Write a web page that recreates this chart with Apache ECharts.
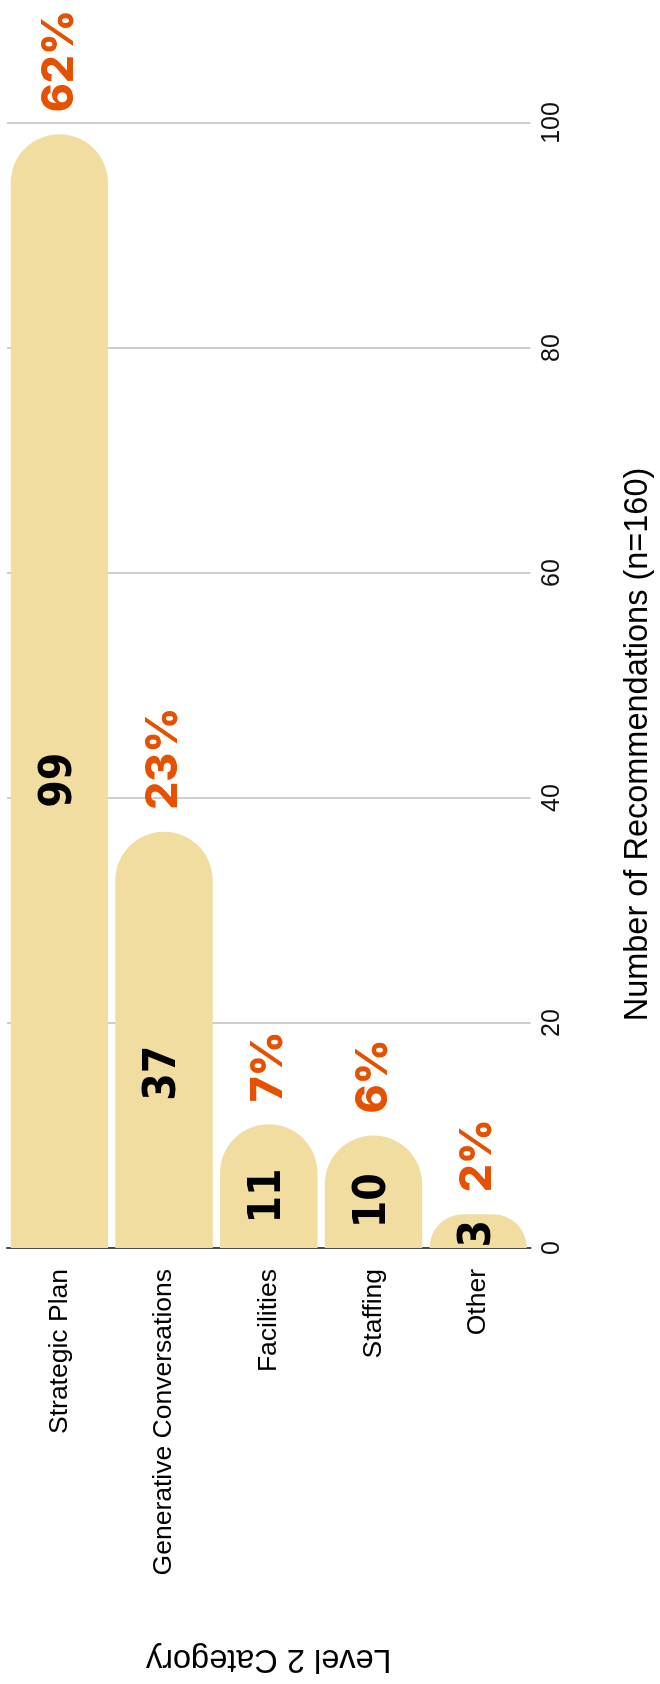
<!DOCTYPE html>
<html>
<head>
<meta charset="utf-8">
<script src="https://cdn.jsdelivr.net/npm/echarts@6/dist/echarts.min.js"></script>
<style>
  html, body { margin: 0; padding: 0; width: 660px; height: 1684px; overflow: hidden; background: #ffffff; }
  /* The chart is laid out as a horizontal bar chart and turned a quarter turn counter-clockwise */
  #chart {
    position: absolute; left: 0; top: 0;
    width: 1684px; height: 660px;
    transform-origin: 0 0;
    transform: translateY(1684px) rotate(-90deg);
  }
</style>
</head>
<body>
<div id="chart"></div>
<script>
// Level 2 categories, top to bottom
const categories = ['Strategic Plan', 'Generative Conversations', 'Facilities', 'Staffing', 'Other'];
// Number of recommendations per category (n = 160)
const counts = [99, 37, 11, 10, 3];
// Share of all recommendations, in percent
const shares = [62, 23, 7, 6, 2];
// Value axis ticks
const valueMin = 0;
const valueMax = 100;
const valueStep = 20;

const barColor = '#F1DDA0';
const shareColor = '#E65100';

const chart = echarts.init(document.getElementById('chart'), null, { renderer: 'canvas' });

chart.setOption({
  animation: false,
  backgroundColor: '#ffffff',
  grid: { left: 436, right: 123, top: 7, bottom: 127 },
  xAxis: {
    type: 'value',
    min: valueMin,
    max: valueMax,
    interval: valueStep,
    axisLine: { show: false },
    axisTick: { show: false },
    splitLine: { lineStyle: { color: '#bdbdbd', width: 1.5 } },
    axisLabel: {
      fontFamily: 'Liberation Sans, Arial, sans-serif',
      fontSize: 25,
      lineHeight: 25,
      color: '#111111',
      margin: 9
    },
    name: 'Number of Recommendations (n=160)',
    nameLocation: 'middle',
    nameGap: 92,
    nameTextStyle: {
      fontFamily: 'Liberation Sans, Arial, sans-serif',
      fontSize: 32.5,
      lineHeight: 32,
      color: '#000000',
      padding: [0, 118, 0, 0]
    }
  },
  yAxis: {
    type: 'category',
    data: categories,
    inverse: true,
    axisLine: { show: true, lineStyle: { color: '#4a4a4a', width: 2 } },
    axisTick: { show: false },
    axisLabel: {
      fontFamily: 'Liberation Sans, Arial, sans-serif',
      fontSize: 26.5,
      color: '#000000',
      margin: 21
    },
    name: 'Level 2 Category',
    nameLocation: 'middle',
    nameGap: 394,
    nameTextStyle: {
      fontFamily: 'Liberation Sans, Arial, sans-serif',
      fontSize: 32.5,
      lineHeight: 33,
      color: '#000000'
    }
  },
  series: [
    {
      type: 'bar',
      data: counts,
      barCategoryGap: '7%',
      itemStyle: { color: barColor, borderRadius: [0, 200, 200, 0] },
      label: {
        show: true,
        position: ['42%', '50%'],
        align: 'center',
        verticalAlign: 'middle',
        formatter: '{c}',
        fontFamily: 'DejaVu Sans Condensed, DejaVu Sans, sans-serif',
        fontWeight: 'bold',
        fontSize: 44,
        color: '#000000'
      },
      z: 2
    },
    {
      type: 'bar',
      data: counts,
      barGap: '-100%',
      barCategoryGap: '7%',
      silent: true,
      itemStyle: { color: 'rgba(0,0,0,0)' },
      label: {
        show: true,
        position: 'right',
        distance: 22,
        formatter: (p) => shares[p.dataIndex] + '%',
        fontFamily: 'Inter, sans-serif',
        fontWeight: 800,
        fontSize: 44,
        color: shareColor
      },
      z: 3
    }
  ]
});
</script>
</body>
</html>
